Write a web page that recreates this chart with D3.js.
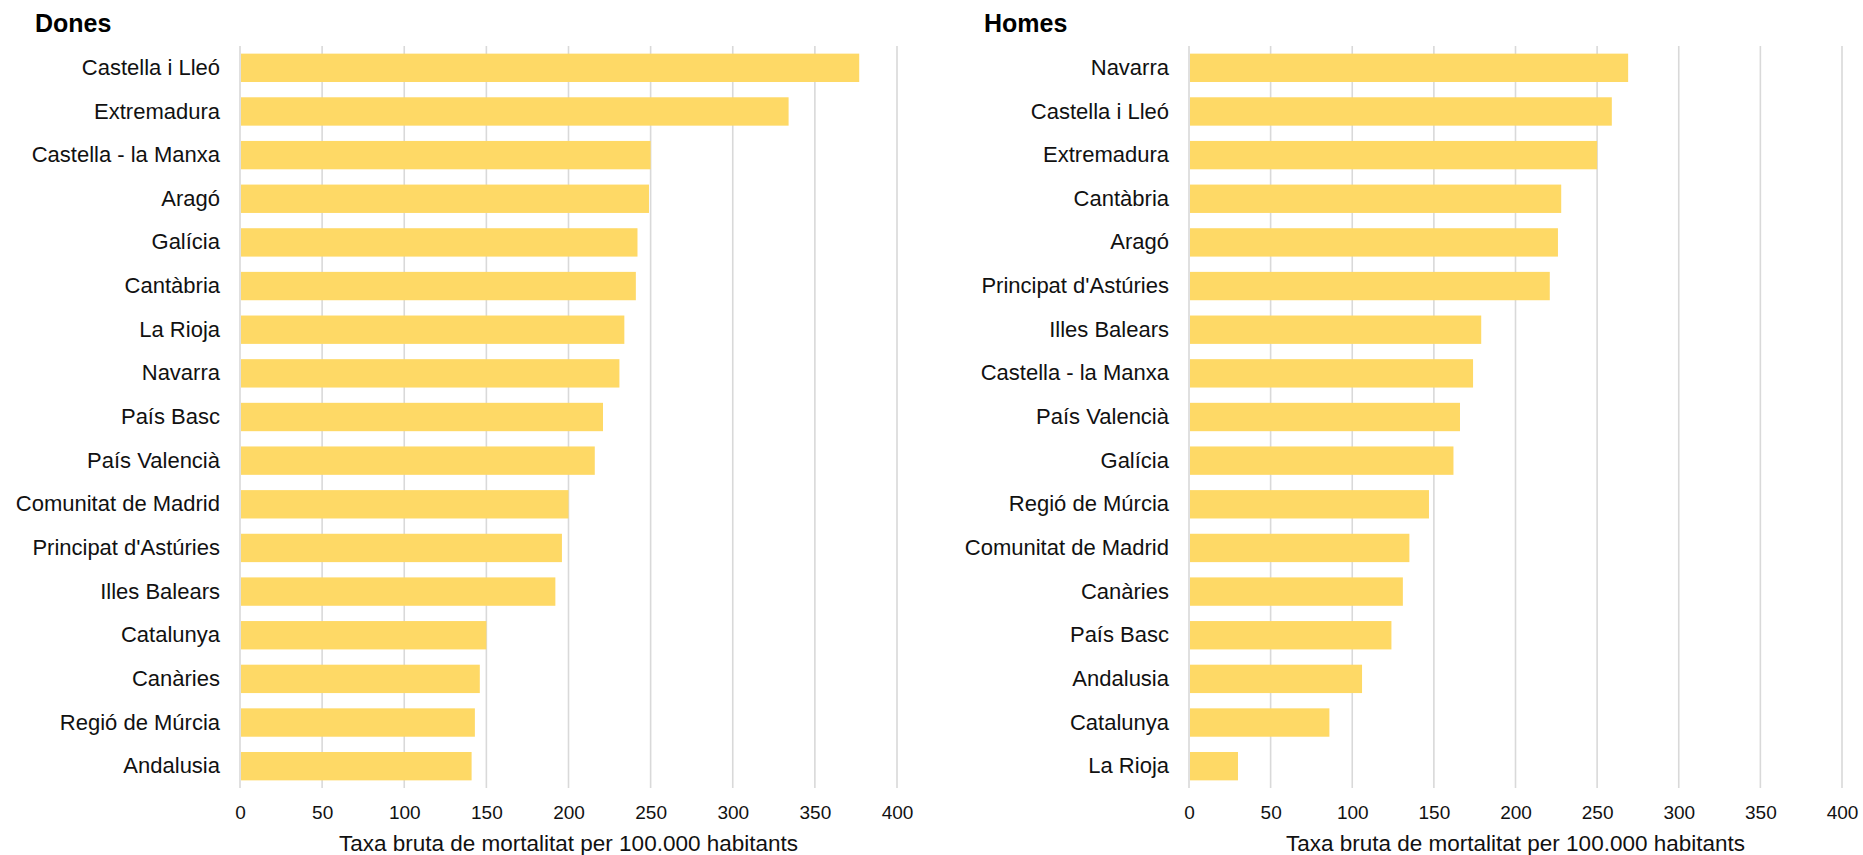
<!DOCTYPE html>
<html>
<head>
<meta charset="utf-8">
<script src="https://cdn.jsdelivr.net/npm/d3@7"></script>
<style>
  html, body { margin: 0; padding: 0; background: #fff; }
  svg { display: block; font-family: "Liberation Sans", Arial, sans-serif; }
</style>
</head>
<body>
<svg id="chart" width="1863" height="855"></svg>
<script>
// Taxa bruta de mortalitat per 100.000 habitants, per comunitat autònoma
const donesRegions = [
  "Castella i Lleó", "Extremadura", "Castella - la Manxa", "Aragó", "Galícia",
  "Cantàbria", "La Rioja", "Navarra", "País Basc", "País Valencià",
  "Comunitat de Madrid", "Principat d'Astúries", "Illes Balears", "Catalunya",
  "Canàries", "Regió de Múrcia", "Andalusia"
];
const donesValues = [377, 334, 250, 249, 242, 241, 234, 231, 221, 216, 200, 196, 192, 150, 146, 143, 141];

const homesRegions = [
  "Navarra", "Castella i Lleó", "Extremadura", "Cantàbria", "Aragó",
  "Principat d'Astúries", "Illes Balears", "Castella - la Manxa", "País Valencià",
  "Galícia", "Regió de Múrcia", "Comunitat de Madrid", "Canàries", "País Basc",
  "Andalusia", "Catalunya", "La Rioja"
];
const homesValues = [269, 259, 250, 228, 226, 221, 179, 174, 166, 162, 147, 135, 131, 124, 106, 86, 30];

const xTicks = [0, 50, 100, 150, 200, 250, 300, 350, 400];
const axisTitle = "Taxa bruta de mortalitat per 100.000 habitants";

const svg = d3.select("#chart");

const BAR_COLOR = "#FED966";
const GRID_COLOR = "#D9D9D9";
const TEXT_COLOR = "#111";

const plotTop = 46, plotBottom = 788;

function panel(opts) {
  const { title, titleX, regions, values, x0, x1 } = opts;
  const g = svg.append("g");

  const x = d3.scaleLinear().domain([0, 400]).range([x0, x1]);
  const y = d3.scaleBand().domain(regions).range([plotTop, plotBottom])
    .paddingInner(0.35).paddingOuter(0.175);

  // vertical gridlines
  g.selectAll("line.grid").data(xTicks).join("line")
    .attr("class", "grid")
    .attr("x1", d => x(d)).attr("x2", d => x(d))
    .attr("y1", plotTop).attr("y2", plotBottom)
    .attr("stroke", GRID_COLOR).attr("stroke-width", 1.6);

  // bars
  g.selectAll("rect.bar").data(values).join("rect")
    .attr("class", "bar")
    .attr("x", x(0) + 1)
    .attr("y", (d, i) => y(regions[i]))
    .attr("width", d => Math.max(0, x(d) - x(0) - 1))
    .attr("height", y.bandwidth())
    .attr("fill", BAR_COLOR);

  // category labels
  const yAxis = d3.axisLeft(y).tickSize(0).tickPadding(20);
  const ya = g.append("g").attr("transform", `translate(${x(0)},0)`).call(yAxis);
  ya.select(".domain").remove();
  ya.selectAll("text")
    .attr("fill", TEXT_COLOR)
    .style("font-size", "22px")
    .style("font-family", "'Liberation Sans', Arial, sans-serif");

  // value axis labels
  const xAxis = d3.axisBottom(x).tickValues(xTicks).tickSize(0).tickPadding(18);
  const xa = g.append("g").attr("transform", `translate(0,${plotBottom})`).call(xAxis);
  xa.select(".domain").remove();
  xa.selectAll("text")
    .attr("fill", TEXT_COLOR)
    .style("font-size", "19px")
    .style("font-family", "'Liberation Sans', Arial, sans-serif");

  // axis title
  g.append("text")
    .attr("x", (x0 + x1) / 2)
    .attr("y", 851)
    .attr("text-anchor", "middle")
    .attr("fill", TEXT_COLOR)
    .style("font-size", "22.5px")
    .text(axisTitle);

  // panel title
  g.append("text")
    .attr("x", titleX)
    .attr("y", 32)
    .attr("fill", "#000")
    .style("font-size", "25px")
    .style("font-weight", "bold")
    .text(title);
}

panel({ title: "Dones", titleX: 35, regions: donesRegions, values: donesValues, x0: 240, x1: 897 });
panel({ title: "Homes", titleX: 984, regions: homesRegions, values: homesValues, x0: 1189, x1: 1842 });
</script>
</body>
</html>
